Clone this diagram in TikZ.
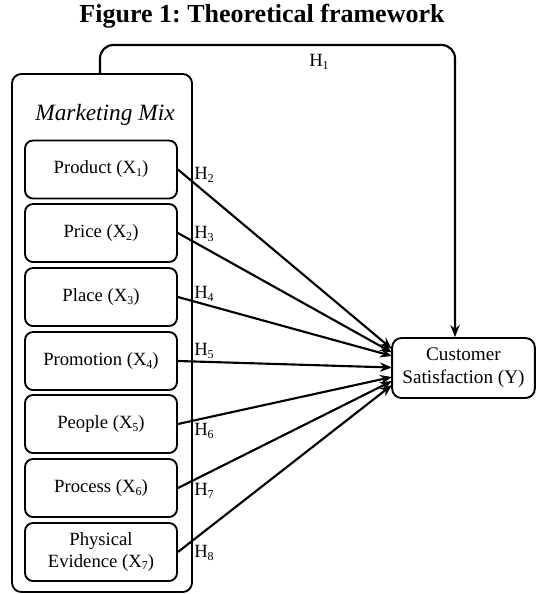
\documentclass[tikz,border=0pt]{standalone}
\usepackage{fontspec}
\setmainfont{Liberation Serif}
\usetikzlibrary{arrows.meta}
\frenchspacing
\newcommand\ssub[1]{\raisebox{-0.3ex}{\fontsize{9}{9}\selectfont #1}}
\newcommand\hsub[1]{\raisebox{-0.35ex}{\fontsize{9}{9}\selectfont #1}}
\tikzset{
  inbox/.style={draw, line width=1.4pt, rounded corners=6pt, minimum width=114pt, minimum height=43.5pt, align=center, font=\fontsize{14}{16}\selectfont, inner sep=1pt},
  outbox/.style={draw, line width=1.4pt, rounded corners=7pt, minimum width=135pt, minimum height=388.5pt, inner sep=0pt},
  conn/.style={line width=1.6pt, -{Stealth[length=9pt, width=7pt]}},
  hlab/.style={font=\fontsize{14}{14}\selectfont, inner sep=0pt, anchor=west}
}
\begin{document}
\begin{tikzpicture}[x=0.75pt,y=-0.75pt]
\useasboundingbox (0,0) rectangle (536,594);
\node[font=\bfseries\fontsize{19.5}{22}\selectfont] (title) at (262,16) {Figure 1: Theoretical framework};
\node[outbox] (mm) at (102,333) {};
\node[font=\itshape\fontsize{17.5}{20}\selectfont] (mmt) at (105,115) {Marketing Mix};
\node[inbox] (p1) at (101,169.5) {Product (X\ssub{1})};
\node[inbox] (p2) at (101,233) {Price (X\ssub{2})};
\node[inbox] (p3) at (101,297) {Place (X\ssub{3})};
\node[inbox] (p4) at (101,361) {Promotion (X\ssub{4})};
\node[inbox] (p5) at (101,424) {People (X\ssub{5})};
\node[inbox] (p6) at (101,488) {Process (X\ssub{6})};
\node[inbox] (p7) at (101,552) {Physical\\Evidence (X\ssub{7})};
\node[draw, line width=1.4pt, rounded corners=7pt, minimum width=107pt, minimum height=45pt, align=center, font=\fontsize{14.4}{17}\selectfont, inner sep=1pt] (cs) at (463.5,368) {Customer\\Satisfaction (Y)};
\coordinate (h1s) at (100,74);
\coordinate (h1t) at (455,45);
\draw[conn, rounded corners=10pt] (h1s) -- (h1s |- h1t) -- (h1t) -- (h1t |- cs.north);
\node[hlab] (h1) at (309,62) {H\hsub{1}};
\coordinate (e1) at (392,349);
\coordinate (e2) at (392,352.5);
\coordinate (e3) at (392,356);
\coordinate (e4) at (392,367.5);
\coordinate (e5) at (392,377);
\coordinate (e6) at (392,381);
\coordinate (e7) at (392,385);
\draw[conn] (p1.east) -- (e1);
\draw[conn] (p2.east) -- (e2);
\draw[conn] (p3.east) -- (e3);
\draw[conn] (p4.east) -- (e4);
\draw[conn] (p5.east) -- (e5);
\draw[conn] (p6.east) -- (e6);
\draw[conn] (p7.east) -- (e7);
\node[hlab] (h2) at (194,175) {H\hsub{2}};
\node[hlab] (h3) at (194,234) {H\hsub{3}};
\node[hlab] (h4) at (194,294) {H\hsub{4}};
\node[hlab] (h5) at (194,351) {H\hsub{5}};
\node[hlab] (h6) at (194,431) {H\hsub{6}};
\node[hlab] (h7) at (194,491) {H\hsub{7}};
\node[hlab] (h8) at (194,553) {H\hsub{8}};
\end{tikzpicture}
\end{document}
